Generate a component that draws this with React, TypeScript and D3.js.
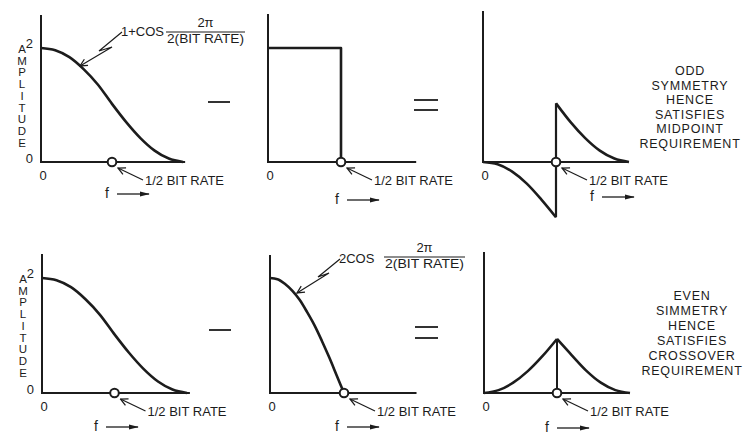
import React from 'react';
import * as d3 from 'd3';

// Frequency samples (fraction of the bit rate)
const freqFull = [0, 0.1, 0.2, 0.3, 0.4, 0.5, 0.6, 0.7, 0.8, 0.9, 1.0];
const freqLower = [0, 0.1, 0.2, 0.3, 0.4, 0.5];
const freqUpper = [0.5, 0.6, 0.7, 0.8, 0.9, 1.0];
const freqHalf = [0, 0.05, 0.1, 0.15, 0.2, 0.25, 0.3, 0.35, 0.4, 0.45, 0.5];

// Amplitude series
const raisedCosine = [2, 1.96, 1.84, 1.63, 1.36, 1.02, 0.7, 0.42, 0.2, 0.06, 0];
const idealFreq = [0, 0.5, 0.5];
const idealAmp = [2, 2, 0];
const oddLower = [0, -0.04, -0.17, -0.38, -0.66, -0.97];
const oddUpper = [1.03, 0.7, 0.42, 0.2, 0.06, 0];
const cosineHalf = [2, 1.98, 1.9, 1.78, 1.62, 1.41, 1.18, 0.91, 0.62, 0.31, 0];
const evenLower = [0, 0.05, 0.18, 0.38, 0.64, 0.94];
const evenUpper = [0.94, 0.66, 0.39, 0.18, 0.05, 0];

// Labels
const yTickValues = [0, 2];
const halfBitRate = 0.5;
const rateLabel = '1/2 BIT RATE';
const axisTitle = 'AMPLITUDE';
const oddNote = ['ODD', 'SYMMETRY', 'HENCE', 'SATISFIES', 'MIDPOINT', 'REQUIREMENT'];
const evenNote = ['EVEN', 'SIMMETRY', 'HENCE', 'SATISFIES', 'CROSSOVER', 'REQUIREMENT'];

const INK = '#1c1c1c';
const FONT = '"Liberation Sans", Arial, Helvetica, sans-serif';

type Frame = {
  left: number; right: number; axisEnd: number; top: number; base: number; unit: number;
  fx: number; fy: number; yLabels: boolean;
};

const frames: Frame[] = [
  { left: 41, right: 183, axisEnd: 1.015, top: 15, base: 162, unit: 57, fx: 107, fy: 194, yLabels: true },
  { left: 268, right: 414, axisEnd: 1.015, top: 14, base: 162, unit: 57, fx: 337, fy: 200, yLabels: false },
  { left: 483, right: 629, axisEnd: 0.993, top: 11, base: 162, unit: 57, fx: 592, fy: 197, yLabels: false },
  { left: 42, right: 187, axisEnd: 1.02, top: 254, base: 393, unit: 57.5, fx: 96, fy: 427, yLabels: true },
  { left: 270, right: 418, axisEnd: 0.99, top: 255, base: 393, unit: 57.5, fx: 337, fy: 427, yLabels: false },
  { left: 484, right: 630, axisEnd: 0.985, top: 252, base: 393, unit: 57.5, fx: 547, fy: 428, yLabels: false },
];

function scalesFor(fr: Frame) {
  const x = d3.scaleLinear().domain([0, 1]).range([fr.left, fr.right]);
  const y = d3.scaleLinear().domain([0, 2]).range([fr.base, fr.base - 2 * fr.unit]);
  return { x, y };
}

function curvePath(fr: Frame, fs: number[], vs: number[], smooth = true) {
  const { x, y } = scalesFor(fr);
  const line = d3
    .line<number>()
    .x((_, i) => x(fs[i]))
    .y((v) => y(v))
    .curve(smooth ? d3.curveMonotoneX : d3.curveLinear);
  return line(vs) || '';
}

function Axes({ fr }: { fr: Frame }) {
  const { x, y } = scalesFor(fr);
  const cx = x(halfBitRate);
  const cy = y(0);
  return (
    <g>
      <path
        d={`M${fr.left},${fr.top}V${fr.base}H${x(fr.axisEnd)}`}
        fill="none"
        stroke={INK}
        strokeWidth={2}
      />
      {fr.yLabels &&
        yTickValues.map((t) => (
          <text key={t} x={fr.left - 8} y={y(t) + (t === 0 ? -2 : -3)} textAnchor="end"
            dominantBaseline="middle" fontSize={13} fill={INK}>
            {t}
          </text>
        ))}
      {fr.yLabels &&
        axisTitle.split('').map((ch, i) => (
          <text key={i} x={fr.left - 19} y={y(2) + 2 + i * 11.7} textAnchor="middle"
            dominantBaseline="middle" fontSize={11.5} fill={INK}>
            {ch}
          </text>
        ))}
      <text x={fr.left + 2} y={fr.base + 15} textAnchor="middle" dominantBaseline="middle"
        fontSize={13} fill={INK}>
        0
      </text>
      {/* frequency axis caption */}
      <text x={fr.fx} y={fr.fy} textAnchor="middle" dominantBaseline="middle" fontSize={14}
        fill={INK}>
        f
      </text>
      <line x1={fr.fx + 10} y1={fr.fy} x2={fr.fx + 42} y2={fr.fy} stroke={INK} strokeWidth={1.3}
        markerEnd="url(#headSolid)" />
      {/* half bit rate marker */}
      <line x1={cx + 31} y1={cy + 18} x2={cx + 6} y2={cy + 6} stroke={INK} strokeWidth={1.2}
        markerEnd="url(#headOpen)" />
      <text x={cx + 33} y={cy + 20} dominantBaseline="middle" fontSize={13} fill={INK}>
        {rateLabel}
      </text>
    </g>
  );
}

function HalfRateDot({ fr }: { fr: Frame }) {
  const { x, y } = scalesFor(fr);
  return <circle cx={x(halfBitRate)} cy={y(0)} r={4.3} fill="#fff" stroke={INK} strokeWidth={2} />;
}

function Formula({ x, y, prefix, leader }: { x: number; y: number; prefix: string; leader: [number, number][] }) {
  const lead = d3.line()(leader) || '';
  return (
    <g fill={INK} fontSize={13}>
      <path d={lead} fill="none" stroke={INK} strokeWidth={1.2} markerEnd="url(#headOpen)" />
      <text x={x} y={y} dominantBaseline="middle">{prefix}</text>
    </g>
  );
}

function Fraction({ x, y, w }: { x: number; y: number; w: number }) {
  return (
    <g fill={INK}>
      <text x={x + w / 2} y={y - 8} textAnchor="middle" dominantBaseline="middle" fontSize={13}>
        2π
      </text>
      <line x1={x} y1={y} x2={x + w} y2={y} stroke={INK} strokeWidth={1.2} />
      <text x={x + w / 2} y={y + 8} textAnchor="middle" dominantBaseline="middle" fontSize={13}
        textLength={w - 2} lengthAdjust="spacingAndGlyphs">
        2(BIT RATE)
      </text>
    </g>
  );
}

function Note({ lines, cx, y0, step }: { lines: string[]; cx: number; y0: number; step: number }) {
  return (
    <g>
      {lines.map((s, i) => (
        <text key={i} x={cx} y={y0 + i * step} textAnchor="middle" dominantBaseline="middle"
          fontSize={12.5} letterSpacing={0.8} fill={INK}>
          {s}
        </text>
      ))}
    </g>
  );
}

export default function App() {
  const [f1, f2, f3, f4, f5, f6] = frames;
  const curveStyle = { fill: 'none', stroke: INK, strokeWidth: 2.6, strokeLinejoin: 'round' as const };
  const s3 = scalesFor(f3);
  const s6 = scalesFor(f6);

  return (
    <svg width={749} height={434} viewBox="0 0 749 434"
      style={{ position: 'absolute', left: 0, top: 0, background: '#fff', fontFamily: FONT }}>
      <defs>
        <marker id="headOpen" viewBox="0 0 10 10" refX={9} refY={5} markerWidth={9} markerHeight={9}
          markerUnits="userSpaceOnUse" orient="auto">
          <path d="M1,1 L9,5 L1,9" fill="none" stroke={INK} strokeWidth={1.4} />
        </marker>
        <marker id="headSolid" viewBox="0 0 12 8" refX={11} refY={4} markerWidth={10} markerHeight={7}
          markerUnits="userSpaceOnUse" orient="auto">
          <path d="M0,1 L12,4 L0,7 Z" fill={INK} />
        </marker>
      </defs>

      {/* top row: raised cosine minus ideal rectangle */}
      <Axes fr={f1} />
      <path d={curvePath(f1, freqFull, raisedCosine)} {...curveStyle} />
      <HalfRateDot fr={f1} />
      <Formula x={121} y={33} prefix="1+COS" leader={[[122, 32], [99, 51], [112, 47], [80, 66]]} />
      <Fraction x={166} y={32} w={79} />

      <line x1={208} y1={102} x2={230} y2={102} stroke={INK} strokeWidth={1.8} />

      <Axes fr={f2} />
      <path d={curvePath(f2, idealFreq, idealAmp, false)} {...curveStyle} />
      <HalfRateDot fr={f2} />

      <line x1={414} y1={100} x2={438} y2={100} stroke={INK} strokeWidth={1.8} />
      <line x1={414} y1={110} x2={438} y2={110} stroke={INK} strokeWidth={1.8} />

      <Axes fr={f3} />
      <path d={curvePath(f3, freqLower, oddLower)} {...curveStyle} />
      <path d={curvePath(f3, freqUpper, oddUpper)} {...curveStyle} />
      <line x1={s3.x(halfBitRate)} x2={s3.x(halfBitRate)}
        y1={s3.y(oddLower[oddLower.length - 1])} y2={s3.y(oddUpper[0])} stroke={INK} strokeWidth={2.2} />
      <HalfRateDot fr={f3} />
      <Note lines={oddNote} cx={690} y0={72} step={14.5} />

      {/* bottom row: raised cosine minus full cosine */}
      <Axes fr={f4} />
      <path d={curvePath(f4, freqFull, raisedCosine)} {...curveStyle} />
      <HalfRateDot fr={f4} />

      <line x1={209} y1={330} x2={231} y2={330} stroke={INK} strokeWidth={1.8} />

      <Axes fr={f5} />
      <path d={curvePath(f5, freqHalf, cosineHalf)} {...curveStyle} />
      <HalfRateDot fr={f5} />
      <Formula x={339} y={260} prefix="2COS" leader={[[340, 259], [318, 277], [329, 273], [297, 293]]} />
      <Fraction x={384} y={257} w={81} />

      <line x1={415} y1={327} x2={438} y2={327} stroke={INK} strokeWidth={1.8} />
      <line x1={415} y1={338} x2={438} y2={338} stroke={INK} strokeWidth={1.8} />

      <Axes fr={f6} />
      <path d={curvePath(f6, freqLower, evenLower)} {...curveStyle} />
      <path d={curvePath(f6, freqUpper, evenUpper)} {...curveStyle} />
      <line x1={s6.x(halfBitRate)} x2={s6.x(halfBitRate)}
        y1={s6.y(0)} y2={s6.y(evenUpper[0])} stroke={INK} strokeWidth={2} />
      <HalfRateDot fr={f6} />
      <Note lines={evenNote} cx={692} y0={297} step={15} />
    </svg>
  );
}
